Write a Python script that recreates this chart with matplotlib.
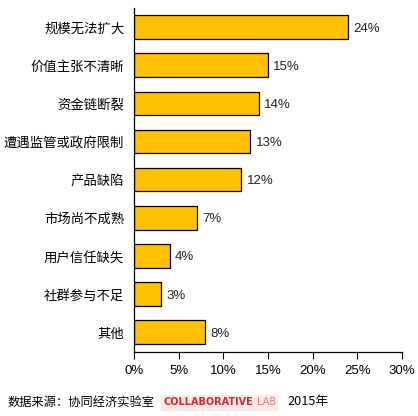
import matplotlib.pyplot as plt

plt.rcParams['font.family'] = ['Noto Sans CJK SC', 'DejaVu Sans']

# data
categories = ["规模无法扩大", "价值主张不清晰", "资金链断裂", "遭遇监管或政府限制",
              "产品缺陷", "市场尚不成熟", "用户信任缺失", "社群参与不足", "其他"]
values = [24, 15, 14, 13, 12, 7, 4, 3, 8]
xticks = [0, 5, 10, 15, 20, 25, 30]

fig = plt.figure(figsize=(4.18, 4.16), dpi=100)
ax = fig.add_axes([134/418, 1-352/416, 268/418, 344/416])

pos = list(range(len(categories)))
ax.barh(pos, values, height=0.62, color="#FFC000", edgecolor="black", linewidth=0.9)
for p, v in zip(pos, values):
    ax.text(v + 0.6, p + 0.04, f"{v}%", va="center", ha="left", fontsize=9.5, color="#222222",
            family="Liberation Sans")

ax.set_ylim(len(categories) - 0.48, -0.5)
ax.set_xlim(0, 30)
ax.set_yticks(pos)
ax.set_yticklabels(categories, fontsize=9.6)
ax.set_xticks(xticks)
ax.set_xticklabels([f"{t}%" for t in xticks], fontsize=9.5, family="Liberation Sans")
ax.tick_params(axis="y", length=0, pad=7)
ax.tick_params(axis="x", length=5, direction="out", pad=4)
for s in ["top", "right"]:
    ax.spines[s].set_visible(False)
ax.spines["left"].set_linewidth(0.9)
ax.spines["bottom"].set_linewidth(0.9)

# footer
fig.text(8/418, 1-402/416, "数据来源：协同经济实验室", fontsize=8.8, va="center", ha="left")
fig.patches.append(plt.Rectangle((161/418, 1-410/416), 116/418, 15/416,
                                 transform=fig.transFigure, color="#fbeaea", zorder=0))
collab = fig.text(164/418, 1-402/416, "COLLABORATIVE", fontsize=7.0, fontweight="bold",
                  color="#d8262e", va="center", ha="left", family="DejaVu Sans")
fig.canvas.draw()
bb = collab.get_window_extent(fig.canvas.get_renderer())
fig.text(bb.x1/418 + 3/418, 1-402/416, "LAB", fontsize=7.0, color="#e07a7e", va="center",
         ha="left", family="DejaVu Sans")
fig.text(287/418, 1-402/416, "2015年", fontsize=9.2, va="center", ha="left")

fig.savefig("out.png", dpi=100)
